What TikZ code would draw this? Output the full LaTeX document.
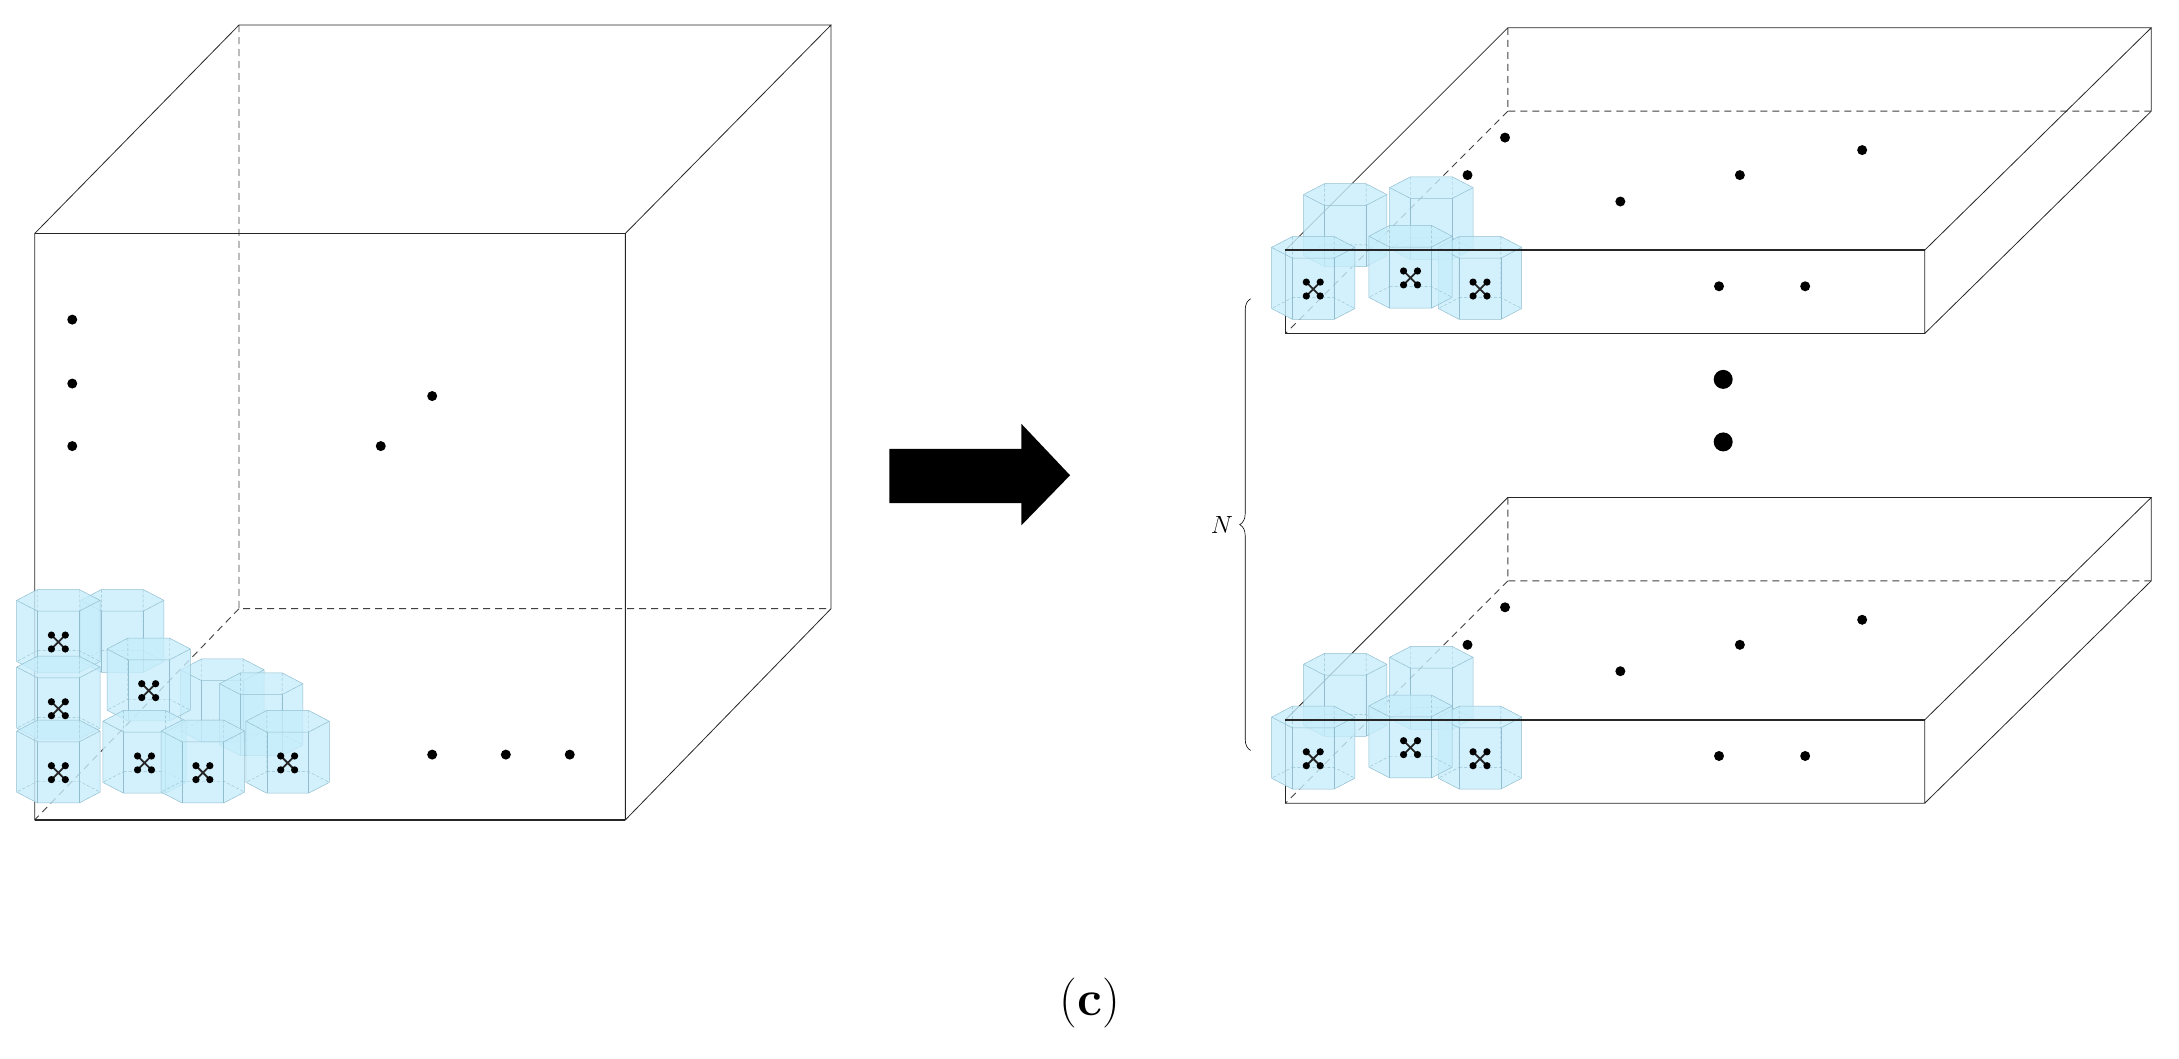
\documentclass[tikz,border=0pt]{standalone}
\usetikzlibrary{decorations.pathreplacing}
\tikzset{
  edge/.style={line width=0.8pt,black!85},
  hid/.style={line width=0.9pt,black!75,dash pattern=on 7pt off 5pt},
  dot/.style={circle,fill=black,inner sep=0pt,minimum size=10pt},
  bigdot/.style={circle,fill=black,inner sep=0pt,minimum size=19pt},
  cellfill/.style={fill=cyan!22,fill opacity=0.8,draw=cyan!45!gray!70,line width=0.5pt},
  celledge/.style={draw=cyan!45!gray!70,line width=0.5pt},
  cellhid/.style={draw=cyan!45!gray!70,line width=0.4pt,dash pattern=on 3pt off 2pt},
}
\newcommand\hexcell[3]{%
\begin{scope}[shift={(#1,#2)}]
 \path[cellfill] (30,-30)--(15,-37.8)--(-15,-37.8)--(-30,-30)--(-30,14)--(-15,21.8)--(15,21.8)--(30,14)--cycle;
 \draw[celledge] (30,-30)--(15,-22.2)--(-15,-22.2)--(-30,-30);
 \draw[celledge] (15,-22.2)--(15,21.8) (-15,-22.2)--(-15,21.8);
 \draw[cellhid] (15,-37.8)--(15,6.2)--(30,14) (-15,-37.8)--(-15,6.2)--(-30,14) (-15,6.2)--(15,6.2);
 \ifx#3y
 \draw[line width=1.8pt,black!85] (-5,-5)--(5,5) (-5,5)--(5,-5);
 \foreach \a/\b in {-5/-5,5/5,-5/5,5/-5}{\fill[black] (\a,\b) circle (2.6);}
 \fi
\end{scope}}
\begin{document}
\begin{tikzpicture}[x=1.39pt,y=-1.39pt]
\useasboundingbox (0,0) rectangle (1568,762);
% ---- left cube
\coordinate (A) at (25,168); \coordinate (B) at (450,168);
\coordinate (C) at (450,590); \coordinate (D) at (25,590);
\coordinate (E) at (172,18); \coordinate (F) at (598,18);
\coordinate (G) at (598,438); \coordinate (H) at (172,438);
\draw[hid] (E)--(H)--(G) (H)--(D);
\draw[edge] (A)--(B)--(C)--(D)--cycle (A)--(E)--(F)--(B) (F)--(G)--(C);
\foreach \p in {(52,230),(52,276),(52,321),(311,285),(274,321),(311,543),(364,543),(410,543)}
  \node[dot] at \p {};
% cells left
\hexcell{88}{462}{n}
\hexcell{160}{512}{n}
\hexcell{188}{522}{n}
\hexcell{42}{462}{y}
\hexcell{42}{510}{y}
\hexcell{107}{497}{y}
\hexcell{42}{556}{y}
\hexcell{207}{549}{y}
\hexcell{104}{549}{y}
\hexcell{146}{556}{y}
\draw[edge,line width=1.4pt] (D)--(C);
% ---- arrow
\fill[black] (640,323)--(735,323)--(735,305)--(770,342)--(735,378)--(735,362)--(640,362)--cycle;
% ---- right slabs
\foreach \yo/\nm in {0/t,338/b}{
\begin{scope}[shift={(0,\yo)}]
\coordinate (\nm A) at (925,180); \coordinate (\nm B) at (1385,180);
\coordinate (\nm C) at (1385,240); \coordinate (\nm D) at (925,240);
\coordinate (\nm E) at (1085,20); \coordinate (\nm F) at (1548,20);
\coordinate (\nm G) at (1548,80); \coordinate (\nm H) at (1085,80);
\draw[hid] (\nm E)--(\nm H)--(\nm G) (\nm H)--(\nm D);
\draw[edge] (\nm A)--(\nm B)--(\nm C)--(\nm D)--cycle (\nm A)--(\nm E)--(\nm F)--(\nm B) (\nm F)--(\nm G)--(\nm C);
\foreach \p in {(1083,99),(1056,126),(1252,126),(1340,108),(1166,145),(1237,206),(1299,206)}
  \node[dot] at \p {};
\hexcell{968}{170}{n}
\hexcell{1030}{165}{n}
\hexcell{945}{208}{y}
\hexcell{1065}{208}{y}
\hexcell{1015}{200}{y}
\draw[edge,line width=1.4pt] (\nm A)--(\nm B);
\end{scope}}
\node[bigdot] at (1240,273) {};
\node[bigdot] at (1240,318) {};
% brace
\draw[line width=0.6pt,decorate,decoration={brace,amplitude=11pt}] (900,540) -- (900,215) node[midway,left=14pt] (N) {\fontsize{26}{26}\selectfont$N$};
% label
\node (lab) at (784,722) {\fontsize{50}{50}\selectfont(\textbf{c})};
\end{tikzpicture}
\end{document}
